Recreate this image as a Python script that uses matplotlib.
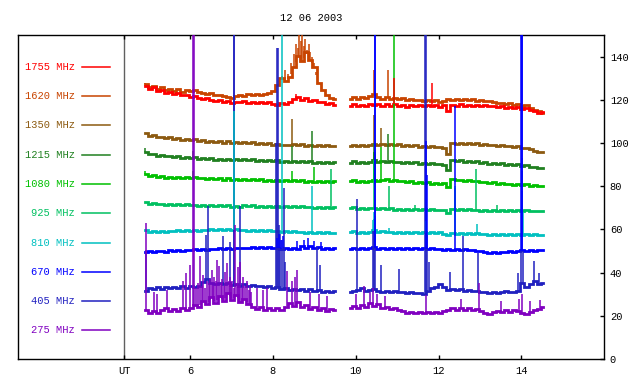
import numpy as np
import matplotlib
matplotlib.use("Agg")
import matplotlib.pyplot as plt

title = "12 06 2003"
labels = ["1755 MHz", "1620 MHz", "1350 MHz", "1215 MHz", "1080 MHz",
          "925 MHz", "810 MHz", "670 MHz", "405 MHz", "275 MHz"]
keys = [1755, 1620, 1350, 1215, 1080, 925, 810, 670, 405, 275]
colors = ["#ff0000", "#c84400", "#8c5a10", "#208020", "#00c000",
          "#00c060", "#00c0c0", "#0000ff", "#2020c0", "#8000c0"]
xtick_vals = [4.41, 6, 8, 10, 12, 14]
xtick_labels = ["UT", "6", "8", "10", "12", "14"]
ytick_vals = [0, 20, 40, 60, 80, 100, 120, 140]

# time spans (UT hours) of the two recorded segments
seg_a = (4.92, 9.50)
seg_b = (9.85, 14.52)

# ---- series values (segment A then segment B) ----
f1755_a = [126.5, 125.0, 125.8, 124.3, 124.6, 123.2, 123.8, 122.6, 123.0, 122.0, 122.4, 121.5, 121.9, 121.0,
           120.6, 120.9, 119.9, 119.6, 119.9, 119.0, 119.4, 118.3, 119.2, 118.8, 119.3, 118.6, 119.0, 118.4,
           119.1, 118.5, 118.9, 118.2, 117.8, 118.6, 118.0, 118.8, 120.6, 121.2, 120.0, 120.7, 119.4, 119.9,
           118.8, 119.1, 118.2, 118.6, 117.6]
f1755_b = [117.3, 118.0, 117.0, 117.8, 117.2, 118.2, 117.5, 118.0, 117.2, 117.9, 117.3, 118.1, 117.0, 117.6,
           116.8, 117.5, 116.9, 117.8, 117.1, 117.6, 116.9, 117.4, 116.6, 117.5, 115.0, 117.8, 117.2, 118.0,
           117.3, 117.8, 117.0, 117.6, 117.1, 117.7, 116.9, 117.3, 116.6, 116.9, 116.2, 116.7, 116.0, 116.6,
           115.9, 116.4, 115.5, 114.8, 113.8, 114.5]
f1620_a = [127.5, 126.0, 126.5, 125.2, 125.8, 124.6, 125.2, 124.2, 124.8, 123.8, 124.5, 124.0, 124.6, 123.5,
           123.0, 122.6, 123.0, 122.2, 122.0, 121.6, 121.3, 120.8, 121.8, 122.3, 121.9, 122.5, 122.0, 122.8,
           122.2, 122.9, 123.2, 124.2, 127.0, 130.0, 128.5, 130.5, 135.0, 140.5, 138.0, 142.0, 138.5, 135.0,
           128.0, 124.5, 122.0, 121.0, 120.6]
f1620_b = [120.5, 121.3, 120.6, 121.5, 120.9, 121.8, 122.8, 121.2, 120.6, 121.1, 120.4, 121.0, 120.2, 120.7,
           119.9, 120.5, 119.7, 120.1, 119.5, 119.9, 119.3, 119.8, 119.2, 119.6, 120.3, 120.0, 120.6, 119.9,
           120.4, 119.8, 120.2, 119.5, 119.9, 119.3, 119.6, 118.8, 118.4, 118.7, 118.0, 118.3, 117.6, 117.9,
           117.2, 117.5, 116.4, 115.5, 114.8, 114.0]
f1350_a = [104.5, 103.2, 103.6, 102.6, 103.0, 102.2, 102.7, 101.9, 102.4, 101.6, 102.0, 101.4, 101.9, 101.0,
           101.3, 100.6, 101.0, 100.3, 100.8, 100.2, 100.7, 100.0, 100.5, 99.9, 100.4, 99.8, 100.3, 99.7,
           100.2, 99.6, 100.0, 99.2, 99.6, 98.9, 99.3, 99.0, 99.6, 98.9, 99.4, 98.7, 99.2, 98.6,
           99.1, 98.5, 98.9, 98.4, 98.7]
f1350_b = [98.6, 99.2, 98.5, 99.0, 98.4, 99.3, 99.6, 99.0, 99.5, 99.1, 99.7, 99.0, 99.4, 98.7,
           99.1, 98.5, 98.9, 98.3, 98.7, 98.2, 98.6, 98.0, 98.3, 97.7, 95.0, 100.2, 99.7, 100.1,
           99.6, 100.0, 99.4, 99.8, 99.2, 99.6, 98.9, 99.2, 98.6, 99.0, 98.4, 98.7, 98.1, 98.5,
           97.9, 97.8, 97.0, 96.3, 95.7, 96.0]
f1215_a = [96.0, 94.8, 95.1, 94.2, 94.5, 93.8, 94.2, 93.5, 93.9, 93.2, 93.6, 93.0, 93.4, 92.8,
           93.1, 92.5, 92.9, 92.3, 92.7, 92.1, 92.6, 92.0, 92.4, 91.9, 92.5, 92.0, 92.4, 91.8,
           92.3, 91.7, 92.1, 91.5, 91.9, 91.3, 91.7, 91.2, 91.8, 91.2, 91.6, 91.0, 91.5, 90.9,
           91.3, 90.8, 91.2, 90.7, 91.0]
f1215_b = [90.9, 91.5, 90.8, 91.3, 90.7, 91.4, 91.9, 91.2, 91.7, 91.1, 91.6, 91.0, 91.4, 90.8,
           91.2, 90.6, 91.0, 90.4, 90.9, 90.3, 90.7, 90.1, 90.5, 89.9, 87.5, 92.0, 91.5, 92.0,
           91.3, 91.8, 91.1, 91.5, 90.8, 91.2, 90.5, 90.9, 90.3, 90.6, 90.0, 90.4, 89.8, 90.1,
           89.5, 89.8, 89.1, 88.7, 88.2, 88.6]
f1080_a = [85.8, 84.6, 85.0, 84.2, 84.6, 83.9, 84.4, 83.8, 84.3, 83.7, 84.2, 83.9, 84.4, 83.6,
           84.0, 83.4, 83.9, 83.2, 83.7, 83.1, 83.6, 83.0, 83.5, 82.9, 83.4, 82.8, 83.3, 82.8,
           83.2, 82.6, 83.1, 82.5, 83.0, 82.4, 82.9, 82.3, 82.8, 82.2, 82.7, 82.1, 82.6, 82.0,
           82.5, 81.9, 82.4, 81.9, 82.2]
f1080_b = [82.3, 82.8, 82.1, 82.6, 81.9, 82.4, 82.7, 82.3, 82.9, 83.2, 82.6, 82.9, 82.2, 82.5,
           81.9, 82.2, 81.6, 82.0, 81.4, 81.8, 81.2, 81.6, 81.0, 81.3, 79.5, 83.2, 82.7, 83.1,
           82.5, 82.9, 82.2, 82.5, 81.8, 82.1, 81.5, 81.8, 81.1, 81.4, 80.8, 81.2, 80.6, 81.0,
           80.4, 80.8, 80.1, 80.5, 79.9, 80.3]
f925_a = [72.8, 71.9, 72.2, 71.6, 71.9, 71.4, 71.8, 71.3, 71.7, 71.2, 71.6, 71.1, 71.5, 71.0,
          71.4, 70.9, 71.3, 70.8, 71.2, 70.7, 71.1, 70.6, 71.0, 70.6, 71.1, 70.7, 71.1, 70.6,
          71.0, 70.5, 70.9, 70.4, 70.8, 70.3, 70.7, 70.2, 70.7, 70.3, 70.8, 70.2, 70.6, 70.1,
          70.5, 70.0, 70.4, 69.9, 70.2]
f925_b = [69.7, 70.2, 69.6, 70.0, 69.5, 69.9, 69.8, 69.4, 69.8, 69.3, 69.7, 69.2, 69.6, 69.1,
          69.5, 69.0, 69.4, 68.9, 69.3, 68.9, 69.3, 68.8, 69.2, 68.9, 67.5, 69.5, 69.0, 69.4,
          68.9, 69.3, 68.8, 69.2, 68.7, 69.1, 68.6, 69.0, 68.6, 69.0, 68.5, 68.9, 68.4, 68.8,
          68.4, 68.8, 68.3, 68.7, 68.3, 68.6]
f810_a = [59.9, 58.9, 59.3, 58.8, 59.2, 59.0, 59.4, 59.1, 59.5, 59.2, 59.6, 59.3, 59.8, 59.4,
          59.9, 59.5, 60.0, 59.6, 60.1, 59.7, 60.1, 59.6, 60.0, 59.5, 59.9, 59.4, 59.8, 59.3,
          59.7, 59.2, 59.6, 59.1, 59.4, 58.9, 59.2, 58.7, 59.1, 58.6, 59.0, 58.5, 58.9, 58.4,
          58.8, 58.3, 58.7, 58.3, 58.5]
f810_b = [58.6, 59.1, 58.5, 58.9, 58.4, 58.8, 59.5, 58.7, 59.1, 58.6, 59.0, 58.5, 58.9, 58.4,
          58.8, 58.3, 58.7, 58.2, 58.6, 58.4, 58.7, 58.2, 58.6, 58.1, 57.5, 58.4, 58.0, 58.4,
          57.9, 58.3, 57.8, 58.2, 57.7, 58.1, 57.6, 58.0, 57.5, 57.9, 57.4, 57.8, 57.3, 57.7,
          57.4, 57.8, 57.3, 57.7, 57.2, 57.6]
f670_a = [49.5, 49.9, 49.4, 49.8, 50.2, 49.7, 50.3, 50.0, 50.5, 50.1, 50.6, 50.4, 50.9, 50.5,
          51.0, 50.6, 51.1, 50.8, 51.2, 50.9, 51.4, 51.0, 51.5, 51.2, 51.6, 51.2, 51.7, 51.3,
          51.8, 51.4, 51.7, 51.2, 51.6, 51.1, 51.5, 51.0, 51.6, 51.1, 52.2, 51.4, 52.5, 51.3,
          52.0, 51.0, 51.6, 50.8, 51.2]
f670_b = [51.0, 51.4, 50.9, 51.3, 50.8, 51.2, 51.8, 51.0, 51.4, 50.9, 51.3, 50.8, 51.2, 50.7,
          51.2, 50.8, 51.3, 50.8, 51.2, 50.8, 51.2, 50.7, 51.1, 50.6, 51.0, 50.5, 50.9, 50.4,
          50.8, 50.3, 50.6, 50.0, 49.8, 49.4, 49.2, 49.6, 49.3, 49.7, 49.4, 49.8, 49.6, 50.0,
          50.3, 49.9, 50.4, 50.0, 50.6, 50.3]
f405_a = [31.5, 32.8, 32.2, 33.4, 32.6, 33.2, 32.7, 33.5, 32.9, 33.6, 33.0, 33.8, 33.2, 34.0,
          35.5, 37.0, 35.2, 34.6, 35.3, 34.5, 35.0, 34.2, 34.8, 34.0, 34.5, 33.8, 34.2, 33.6,
          34.0, 33.2, 33.6, 32.8, 33.5, 32.4, 32.9, 32.0, 32.6, 31.9, 32.4, 31.6, 32.2, 31.4,
          31.9, 31.2, 31.6, 31.0, 31.4]
f405_b = [30.8, 31.3, 31.9, 32.8, 31.6, 31.9, 32.5, 31.5, 31.0, 31.4, 30.9, 31.3, 30.8, 31.1,
          30.6, 30.9, 30.4, 30.7, 30.2, 31.5, 32.8, 33.5, 34.5, 33.2, 32.0, 32.6, 31.8, 32.4,
          31.6, 32.0, 31.3, 31.7, 30.9, 31.2, 30.5, 30.9, 30.6, 31.0, 31.3, 30.8, 31.2, 31.6,
          35.0, 33.5, 34.8, 36.0, 34.5, 35.0]
f275_a = [22.5, 21.3, 22.0, 21.2, 22.8, 23.6, 22.4, 23.0, 22.2, 23.5, 22.6, 23.4, 25.0, 24.0,
          27.0, 25.5, 28.5, 26.0, 29.0, 27.0, 30.5, 27.5, 29.5, 26.5, 28.0, 25.5, 24.0, 23.2,
          24.0, 22.8, 23.5, 22.6, 23.8, 22.5, 24.2, 26.0, 24.5, 26.5, 24.0, 25.0, 23.2, 24.0,
          22.8, 23.5, 22.4, 23.0, 22.5]
f275_b = [23.5, 24.6, 23.8, 24.9, 24.2, 25.8, 24.5, 25.5, 23.4, 24.2, 23.0, 23.8, 22.6, 22.0,
          21.3, 21.8, 21.2, 21.6, 21.1, 21.7, 21.3, 21.9, 21.4, 22.3, 22.8, 23.6, 22.6, 23.8,
          22.7, 23.4, 22.5, 23.1, 22.0, 21.4, 21.0, 21.7, 22.4, 21.8, 22.6, 21.6, 22.8, 22.0,
          21.3, 20.9, 21.6, 22.5, 23.2, 24.2]

# ---- bursts / spikes: times (UT hours) and peak values ----
spk1755_t = [8.55, 10.92, 11.84]
spk1755_v = [122.5, 130, 128]
spk1620_t = [4.92, 8.22, 8.30, 8.36, 8.44, 8.50, 8.55, 8.60, 8.63, 8.67, 8.70, 8.74, 8.78, 8.82,
             8.86, 8.90, 8.95, 9.00, 9.05, 10.43, 10.77]
spk1620_v = [128, 131, 134, 132, 137, 141, 146, 144, 155, 147, 155, 145, 148, 143,
             146, 142, 140, 137, 133, 134, 134]
spk1350_t = [8.46, 10.45, 10.60]
spk1350_v = [111, 113, 107]
spk1215_t = [4.92, 6.07, 8.46, 8.94, 10.45, 10.77, 14.02]
spk1215_v = [97.5, 96.5, 98.5, 105.5, 100, 104, 93]
spk1080_t = [4.92, 6.07, 8.46, 8.99, 10.44, 10.45, 10.46, 10.60, 10.92, 14.02]
spk1080_v = [87, 87, 87, 88.8, 96, 96, 96, 98, 155, 87]
spk925_t = [9.40, 10.44, 10.80, 11.44, 12.40, 12.91, 13.41, 14.02]
spk925_v = [88, 92, 80, 71.5, 79, 88, 71.5, 78]
spk810_t = [7.05, 8.22, 8.94, 10.42, 10.44, 10.46, 10.80, 11.70, 12.40, 12.93, 14.01, 14.03]
spk810_v = [115, 155, 80, 64.5, 68, 66, 60.6, 63.7, 80, 62.6, 70, 68]
spk670_t = [8.10, 8.14, 8.20, 8.25, 8.58, 8.75, 8.85, 9.00, 9.15, 10.465, 10.475, 11.70, 11.72,
            12.40, 14.00, 14.012, 14.024]
spk670_v = [56, 58, 55, 57, 54.4, 55, 56, 54.5, 54, 155, 155, 101, 85,
            117, 155, 155, 155]
spk405_t = [4.93, 6.39, 6.44, 6.80, 6.97, 7.05, 7.055, 7.21, 8.08, 8.10, 8.12, 8.15, 8.18, 8.22,
            8.26, 8.30, 9.06, 9.14, 10.03, 10.42, 10.45, 10.47, 10.60, 11.05, 11.68, 11.69, 11.72,
            11.76, 12.28, 12.59, 12.95, 13.91, 14.00, 14.04, 14.30, 14.42]
spk405_v = [50.6, 57.5, 71, 57, 54, 155, 155, 71, 100, 144, 144, 62, 58, 55,
            79, 45, 52, 43.6, 74, 60, 65, 58, 43.6, 41.6, 155, 155, 57.5,
            45, 40.5, 57, 49, 40, 51, 49.8, 45.5, 40]
spk275_t = [4.93, 5.12, 5.20, 5.45, 5.83, 5.90, 6.00, 6.08, 6.09, 6.15, 6.20, 6.24, 6.28, 6.32,
            6.36, 6.40, 6.45, 6.48, 6.52, 6.55, 6.58, 6.62, 6.66, 6.70, 6.74, 6.78, 6.82, 6.85,
            6.90, 6.93, 6.96, 6.99, 7.02, 7.05, 7.09, 7.12, 7.15, 7.18, 7.21, 7.24, 7.28, 7.32,
            7.37, 7.41, 7.45, 7.48, 7.62, 7.75, 7.85, 8.33, 8.45, 8.52, 8.58, 8.90, 9.10, 9.30,
            10.00, 10.19, 10.35, 10.42, 10.50, 10.70, 11.70, 12.55, 12.97, 13.50, 13.95, 14.02,
            14.20, 14.45]
spk275_v = [63, 31, 30, 32, 36, 40, 43.6, 155, 155, 33, 35, 47.5, 34, 39,
            33, 36, 35, 37, 41.3, 34, 38, 36, 46, 43, 35, 37, 34, 40.5,
            44.4, 36, 38, 35, 36, 33, 62, 35, 42.8, 34, 45, 33, 38, 34,
            35.9, 32, 34, 31, 33, 32, 33, 40.8, 36, 38, 41, 31, 30, 29,
            30, 33.6, 31.2, 33, 30, 29, 29.7, 28, 35, 27, 28, 30,
            27, 27.5]

series = {
    1755: (f1755_a, f1755_b, spk1755_t, spk1755_v),
    1620: (f1620_a, f1620_b, spk1620_t, spk1620_v),
    1350: (f1350_a, f1350_b, spk1350_t, spk1350_v),
    1215: (f1215_a, f1215_b, spk1215_t, spk1215_v),
    1080: (f1080_a, f1080_b, spk1080_t, spk1080_v),
    925: (f925_a, f925_b, spk925_t, spk925_v),
    810: (f810_a, f810_b, spk810_t, spk810_v),
    670: (f670_a, f670_b, spk670_t, spk670_v),
    405: (f405_a, f405_b, spk405_t, spk405_v),
    275: (f275_a, f275_b, spk275_t, spk275_v),
}
color_of = dict(zip(keys, colors))

mono = "Liberation Mono"
plt.rcParams["font.family"] = [mono, "DejaVu Sans Mono"]
plt.rcParams["font.size"] = 7.5

fig = plt.figure(figsize=(6.4, 3.84), dpi=100)
ax = fig.add_axes([18.3 / 640, 25 / 384, (604.3 - 18.3) / 640, (359 - 35) / 384])
ax.set_xlim(1.85, 16.0)
ax.set_ylim(0, 150)

base_order = [1620, 1755, 1350, 1215, 1080, 925, 810, 670, 405, 275]
for k in base_order:
    a, b, _, _ = series[k]
    ta = np.linspace(seg_a[0], seg_a[1], len(a))
    tb = np.linspace(seg_b[0], seg_b[1], len(b))
    for tt, vv in ((ta, a), (tb, b)):
        ax.plot(tt, vv, color=color_of[k], lw=2.0, zorder=2, drawstyle="steps-mid",
                solid_joinstyle="miter")

spike_order = [1080, 1755, 1620, 1350, 1215, 925, 405, 810, 670, 275]
for k in spike_order:
    a, b, st, sv = series[k]
    ta = np.linspace(seg_a[0], seg_a[1], len(a))
    tb = np.linspace(seg_b[0], seg_b[1], len(b))
    t_all = np.concatenate([ta, tb])
    v_all = np.concatenate([a, b])
    base = np.interp(st, t_all, v_all)
    ax.vlines(st, base, sv, color=color_of[k], lw=1.1, zorder=3)

# legend inside the left panel
leg_y = np.linspace(135.2, 13.3, len(keys))
for lab, k, yv in zip(labels, keys, leg_y):
    ax.text(3.22, yv, lab, ha="right", va="center", color=color_of[k])
    ax.plot([3.39, 4.07], [yv, yv], color=color_of[k], lw=1.1)

ax.axvline(4.41, color="#606060", lw=1.0, zorder=1)

ax.set_xticks(xtick_vals)
ax.set_xticklabels(xtick_labels)
ax.set_yticks(ytick_vals)
ax.yaxis.tick_right()
ax.tick_params(axis="x", direction="in", top=True, bottom=True, length=3, width=1, pad=5)
ax.tick_params(axis="y", direction="in", right=True, left=False, length=3, width=1, pad=4,
               labelright=True, labelleft=False)
for s in ax.spines.values():
    s.set_linewidth(1.0)

fig.text(0.5 * (18.3 + 604.3) / 640, 1 - 18 / 384, title, ha="center", va="center")

fig.savefig("out.png", dpi=100)
